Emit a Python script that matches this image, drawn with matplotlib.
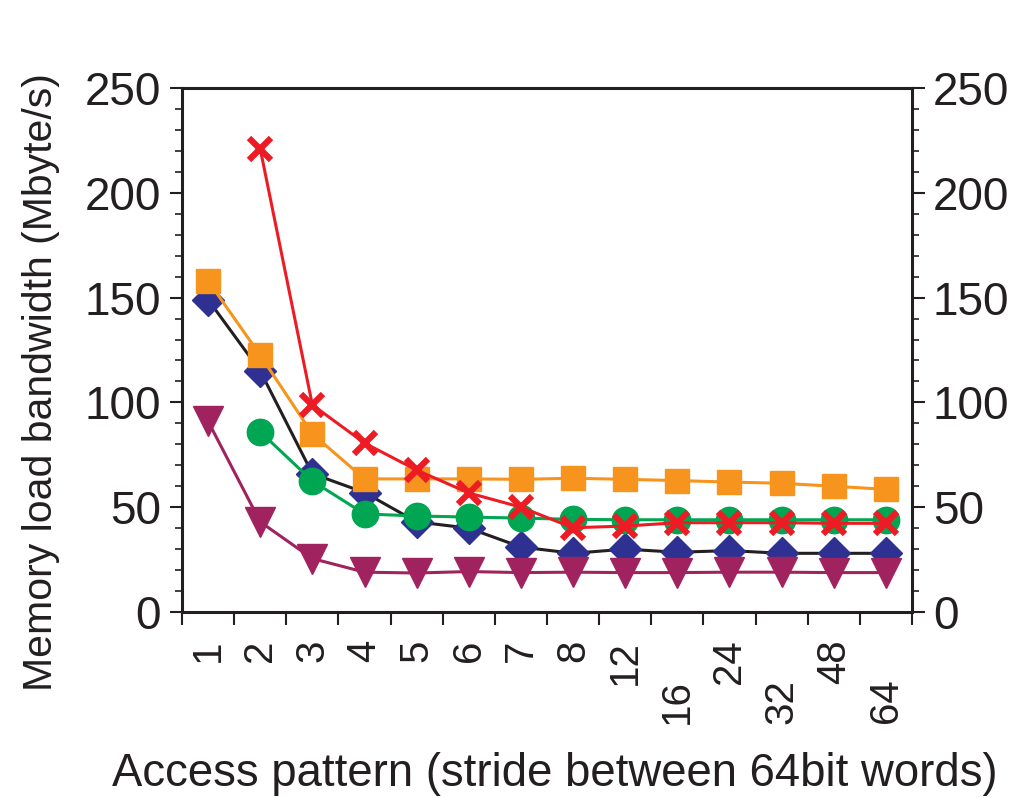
import matplotlib
matplotlib.use("Agg")
import matplotlib.pyplot as plt
from matplotlib.ticker import MultipleLocator, FixedLocator

plt.rcParams['font.family'] = ['Liberation Sans', 'DejaVu Sans']

strides = ["1", "2", "3", "4", "5", "6", "7", "8", "12", "16", "24", "32", "48", "64"]
lower_row = ["16", "32", "64"]

diamond_vals = [149, 115, 66, 57, 43, 40, 31, 28, 30, 28.5, 29.3, 28, 28, 28]
triangle_vals = [91, 43, 25.5, 19, 18.6, 19.3, 18.8, 19, 18.8, 18.8, 19, 19, 18.8, 18.8]
circle_x = list(range(1, 14))
circle_vals = [86, 62.5, 46.8, 45.8, 45.3, 44.8, 44.2, 44, 44, 44, 44, 44, 44]
square_vals = [158, 122.5, 85, 63.5, 63.5, 63.5, 63.3, 63.8, 63.3, 62.7, 62, 61.4, 60, 58.5]
cross_x = list(range(1, 14))
cross_vals = [221, 98.8, 80.6, 67.7, 56.8, 50, 40.2, 41, 42.6, 42.6, 42.6, 42.3, 42.3]

x_all = list(range(len(strides)))
ink = '#231F20'

fig = plt.figure(figsize=(10.27, 7.98), dpi=100)
ax = fig.add_axes([182/1027, 1-612/798, (912-182)/1027, (612-88)/798])

ax.plot(x_all, diamond_vals, color=ink, lw=2.2, marker='D', ms=16,
        mfc='#2E3192', mec='#2E3192', zorder=3)
ax.plot(x_all, triangle_vals, color='#A0235F', lw=2.2, marker='v', ms=21,
        mfc='#A0235F', mec='#A0235F', zorder=4)
ax.plot(circle_x, circle_vals, color='#00A651', lw=2.2, marker='o', ms=19,
        mfc='#00A651', mec='#00A651', zorder=5)
ax.plot(x_all, square_vals, color='#F7941D', lw=2.2, marker='s', ms=17,
        mfc='#F7941D', mec='#F7941D', zorder=6)
ax.plot(cross_x, cross_vals, color='#ED1C24', lw=2.2, marker='x', ms=16,
        mew=4.5, mec='#ED1C24', zorder=7)

ax.set_xlim(-0.5, len(strides) - 0.5)
ax.set_ylim(0, 250)

ax.xaxis.set_major_locator(FixedLocator(x_all))
ax.set_xticklabels(strides, rotation=90, fontsize=29, va='top', ha='center')
ax.xaxis.set_minor_locator(FixedLocator([i - 0.5 for i in range(len(strides) + 1)]))
ax.tick_params(axis='x', which='major', length=0, pad=20)
ax.tick_params(axis='x', which='minor', length=9, width=1.5, direction='out', color=ink)
for t, lab in zip(ax.xaxis.get_major_ticks(), strides):
    if lab in lower_row:
        t.set_pad(48)

ax.yaxis.set_major_locator(MultipleLocator(50))
ax.yaxis.set_minor_locator(MultipleLocator(10))
ax.tick_params(axis='y', which='both', left=True, right=True, labelleft=True,
               labelright=True, direction='out', color=ink)
ax.tick_params(axis='y', which='major', length=9, width=1.5, labelsize=33, pad=6)
ax.tick_params(axis='y', which='minor', length=5, width=1.2)

for s in ax.spines.values():
    s.set_linewidth(2.2)
    s.set_color(ink)

ax.set_ylabel("Memory load bandwidth (Mbyte/s)", fontsize=29.5, color=ink)
ax.yaxis.set_label_coords((60 - 182) / 730, (612 - 382) / 524)
ax.set_xlabel("Access pattern (stride between 64bit words)", fontsize=32.8, color=ink)
ax.xaxis.set_label_coords((555 - 182) / 730, (612 - 752) / 524)
for lab in ax.get_xticklabels() + ax.get_yticklabels():
    lab.set_color(ink)

fig.savefig("out.png", dpi=100)
